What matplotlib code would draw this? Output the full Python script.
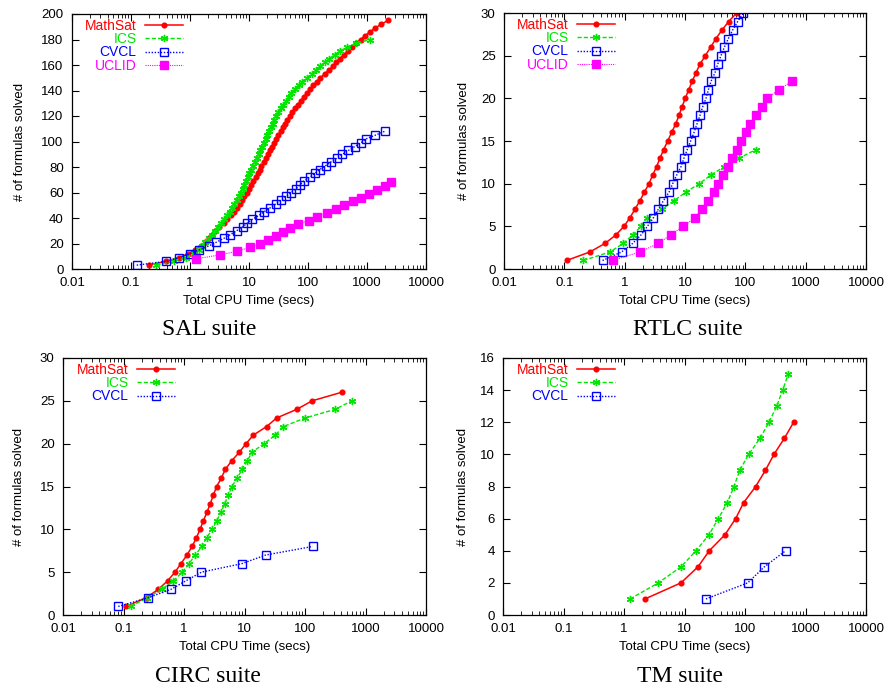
import numpy as np
import matplotlib
matplotlib.use("Agg")
import matplotlib.pyplot as plt
from matplotlib.ticker import LogLocator, FixedLocator, FixedFormatter, NullFormatter

plt.rcParams['font.family'] = ['Liberation Sans', 'DejaVu Sans']

# ---- SAL suite ----
sal_mathsat_x = [0.20, 0.39, 0.66, 0.93, 1.20, 1.55, 1.86, 2.14, 2.40, 2.69, 3.16, 3.72, 4.27, 4.90, 5.50,
                 6.17, 6.92, 7.59, 8.32, 9.12, 10.0, 10.7, 11.7, 12.9, 14.1, 15.1, 16.2, 17.8, 19.5, 20.9,
                 22.4, 24.5, 26.3, 28.8, 31.6, 34.7, 37.2, 40.7, 44.7, 49.0, 53.7, 60.3, 67.6, 75.9, 85.1,
                 95.5, 107, 123, 141, 162, 191, 224, 263, 302, 347, 407, 479, 562, 661, 776,
                 933, 1122, 1380, 1738, 2300]
sal_mathsat_y = [3, 6, 9, 12, 15, 18, 21, 24, 27, 30, 33, 36, 39, 42, 45,
                 48, 51, 54, 57, 60, 63, 66, 69, 72, 75, 78, 81, 84, 87, 90,
                 93, 96, 99, 102, 105, 108, 111, 114, 117, 120, 123, 126, 129, 132, 135,
                 138, 141, 144, 147, 150, 153, 156, 159, 162, 165, 168, 171, 174, 177, 180,
                 183, 186, 189, 192, 195]
sal_ics_x = [0.27, 0.54, 0.87, 1.17, 1.41, 1.62, 1.82, 2.09, 2.34, 2.63,
             2.95, 3.39, 3.80, 4.27, 4.68, 5.13, 5.62, 6.17, 6.76, 7.24,
             7.76, 8.32, 8.91, 9.55, 10.0, 10.7, 11.5, 12.6, 13.5, 14.5,
             15.5, 16.6, 17.8, 19.1, 20.4, 21.9, 23.4, 25.1, 26.9, 28.8,
             31.6, 34.7, 38.0, 42.7, 46.8, 52.5, 60.3, 69.2, 79.4, 95.5,
             115, 135, 158, 191, 229, 282, 347, 457, 661, 1122]
sal_ics_y = [3, 6, 9, 12, 15, 18, 21, 24, 27, 30,
             33, 36, 39, 42, 45, 48, 51, 54, 57, 60,
             63, 66, 69, 72, 75, 78, 81, 84, 87, 90,
             93, 96, 99, 102, 105, 108, 111, 114, 117, 120,
             123, 126, 129, 132, 135, 138, 141, 144, 147, 150,
             153, 156, 159, 162, 165, 168, 171, 174, 177, 180]
sal_cvcl_x = [0.125, 0.39, 0.66, 1.0, 1.44, 2.06, 2.79, 3.73, 4.85, 6.15,
              7.79, 9.36, 11.4, 14.7, 18.1, 22.9, 28.3, 34.9, 43.1, 51.8,
              62.3, 72.9, 85.4, 107, 130, 158, 198, 245, 310, 383,
              485, 620, 790, 960, 1390, 2000]
sal_cvcl_y = [3, 6, 9, 12, 15, 18, 21, 24, 27, 30,
              33, 36, 39, 42, 45, 48, 51, 54, 57, 60,
              63, 66, 69, 72, 75, 78, 81, 84, 87, 90,
              93, 96, 99, 102, 105, 108]
sal_uclid_x = [1.25, 3.2, 6.3, 10.4, 15.4, 21, 28.5, 37, 50, 68, 103, 140, 207, 300, 410,
               580, 800, 1100, 1460, 2000, 2550]
sal_uclid_y = [8, 11, 14, 17, 20, 23, 26, 29, 32, 35, 38, 41, 44, 47, 50,
               53, 56, 59, 62, 65, 68]

# ---- RTLC suite ----
rtlc_mathsat_x = [0.109, 0.266, 0.472, 0.718, 0.975, 1.22, 1.48, 1.79, 2.12, 2.53,
                  2.91, 3.39, 3.85, 4.43, 5.16, 6.01, 7.0, 7.96, 8.92, 10.1,
                  11.5, 13.2, 15.2, 17.7, 21.7, 26.6, 32.6, 41.0, 53.0, 71.8]
rtlc_mathsat_y = [1, 2, 3, 4, 5, 6, 7, 8, 9, 10, 11, 12, 13, 14, 15,
                  16, 17, 18, 19, 20, 21, 22, 23, 24, 25, 26, 27, 28, 29, 30]
rtlc_ics_x = [0.207, 0.571, 0.95, 1.36, 1.87, 2.35, 4.10, 6.57, 10.3, 17.3, 26.6, 44.9, 79.6, 150]
rtlc_ics_y = [1, 2, 3, 4, 5, 6, 7, 8, 9, 10, 11, 12, 13, 14]
rtlc_cvcl_x = [0.43, 0.89, 1.36, 1.87, 2.38, 2.99, 3.61, 4.38, 5.43, 6.25,
               7.28, 8.59, 9.62, 10.9, 12.4, 14.1, 15.8, 17.7, 19.6, 22.3,
               24.4, 27.0, 31.4, 34.8, 39.5, 44.9, 52.3, 61.7, 74.6, 92.7]
rtlc_cvcl_y = [1, 2, 3, 4, 5, 6, 7, 8, 9, 10, 11, 12, 13, 14, 15,
               16, 17, 18, 19, 20, 21, 22, 23, 24, 25, 26, 27, 28, 29, 30]
rtlc_uclid_x = [0.63, 1.79, 3.61, 5.78, 9.38, 14.6, 18.9, 23.8, 30.3, 35.7, 42.1,
                50.9, 60.1, 71.8, 83.7, 101, 119, 150, 187, 226, 361, 586]
rtlc_uclid_y = [1, 2, 3, 4, 5, 6, 7, 8, 9, 10, 11, 12, 13, 14, 15, 16, 17, 18, 19, 20, 21, 22]

# ---- CIRC suite ----
circ_mathsat_x = [0.11, 0.235, 0.377, 0.537, 0.71, 0.89, 1.12, 1.36, 1.60, 1.84, 2.09, 2.40, 2.72,
                  3.05, 3.47, 4.14, 4.82, 6.14, 8.22, 10.6, 14.0, 23.2, 34.0, 72.8, 131, 404]
circ_mathsat_y = [1, 2, 3, 4, 5, 6, 7, 8, 9, 10, 11, 12, 13,
                  14, 15, 16, 17, 18, 19, 20, 21, 22, 23, 24, 25, 26]
circ_ics_x = [0.131, 0.248, 0.428, 0.667, 0.938, 1.21, 1.54, 1.96, 2.37, 2.90, 3.47, 4.09, 4.70,
              5.41, 6.21, 7.62, 9.1, 11.1, 13.3, 21.0, 32.4, 43.9, 101, 313, 598]
circ_ics_y = [1, 2, 3, 4, 5, 6, 7, 8, 9, 10, 11, 12, 13,
              14, 15, 16, 17, 18, 19, 20, 21, 22, 23, 24, 25]
circ_cvcl_x = [0.082, 0.251, 0.61, 1.08, 1.94, 9.1, 22.4, 134]
circ_cvcl_y = [1, 2, 3, 4, 5, 6, 7, 8]

# ---- TM suite ----
tm_mathsat_x = [2.22, 8.75, 16.7, 25.7, 46.7, 70.1, 95.1, 150, 217, 301, 447, 637]
tm_mathsat_y = [1, 2, 3, 4, 5, 6, 7, 8, 9, 10, 11, 12]
tm_ics_x = [1.26, 3.69, 8.75, 15.5, 25.4, 36.2, 51.0, 65.8, 81.6, 115, 177, 249, 334, 419, 520]
tm_ics_y = [1, 2, 3, 4, 5, 6, 7, 8, 9, 10, 11, 12, 13, 14, 15]
tm_cvcl_x = [22.6, 111, 209, 470]
tm_cvcl_y = [1, 2, 3, 4]

x_ticks = [0.01, 0.1, 1, 10, 100, 1000, 10000]
x_tick_labels = ["0.01", "0.1", "1", "10", "100", "1000", "10000"]

RED = '#ff0000'
GREEN = '#00e600'
BLUE = '#0000ff'
MAGENTA = '#ff00ff'


def plot_mathsat(ax, x, y):
    ax.plot(x, y, color=RED, lw=1.1, ls='-', marker='o', ms=3.4, mec=RED, mfc=RED, label='MathSat')


def plot_ics(ax, x, y):
    ax.plot(x, y, color=GREEN, lw=1.0, ls=(0, (3, 1.5)), marker=(6, 2, 0), ms=5.2, mew=1.0,
            mec=GREEN, label='ICS')


def plot_cvcl(ax, x, y):
    ax.plot(x, y, color=BLUE, lw=1.0, ls=(0, (1, 1.2)), marker='s', ms=5.3, mew=1.0,
            mec=BLUE, mfc='none', label='CVCL')


def plot_uclid(ax, x, y):
    ax.plot(x, y, color=MAGENTA, lw=0.8, ls=(0, (1, 1)), marker='s', ms=5.2, mec=MAGENTA,
            mfc=MAGENTA, label='UCLID')


def setup(ax, ymax, ystep, legend_x, caption, cap_xy, ylab_pad):
    ax.set_xscale('log')
    ax.set_xlim(0.01, 10000)
    ax.set_ylim(0, ymax)
    ax.xaxis.set_major_locator(FixedLocator(x_ticks))
    ax.xaxis.set_major_formatter(FixedFormatter(x_tick_labels))
    ax.xaxis.set_minor_locator(LogLocator(base=10, subs=np.arange(2, 10), numticks=20))
    ax.xaxis.set_minor_formatter(NullFormatter())
    ax.set_yticks(np.arange(0, ymax + ystep / 2, ystep))
    ax.tick_params(which='both', direction='in', top=True, right=True, labelsize=9.5, pad=6)
    ax.tick_params(which='major', length=5, width=0.8)
    ax.tick_params(which='minor', length=3, width=0.6)
    for s in ax.spines.values():
        s.set_linewidth(0.9)
    ax.set_xlabel('Total CPU Time (secs)', fontsize=9.5, labelpad=4)
    ax.set_ylabel('# of formulas solved', fontsize=9.5, labelpad=ylab_pad)
    ax.legend(loc='upper right', bbox_to_anchor=(legend_x, 0.98), markerfirst=False, frameon=False,
              handlelength=2.75, handletextpad=0.6, labelspacing=-0.06, borderpad=0, borderaxespad=0,
              fontsize=10, labelcolor='linecolor', numpoints=1)
    fig.text(cap_xy[0] / 888, 1 - cap_xy[1] / 689, caption, family='Liberation Serif',
             fontsize=17, ha='center', va='center')


fig = plt.figure(figsize=(8.88, 6.89), dpi=100)
ax_sal = fig.add_axes([72 / 888, 1 - 269 / 689, 354 / 888, 255 / 689])
ax_rtlc = fig.add_axes([504 / 888, 1 - 269 / 689, 362 / 888, 256 / 689])
ax_circ = fig.add_axes([63 / 888, 1 - 615 / 689, 363 / 888, 257 / 689])
ax_tm = fig.add_axes([503 / 888, 1 - 615 / 689, 363 / 888, 257 / 689])

plot_mathsat(ax_sal, sal_mathsat_x, sal_mathsat_y)
plot_ics(ax_sal, sal_ics_x, sal_ics_y)
plot_cvcl(ax_sal, sal_cvcl_x, sal_cvcl_y)
plot_uclid(ax_sal, sal_uclid_x, sal_uclid_y)
setup(ax_sal, 200, 20, 0.314, 'SAL suite', (209, 330), 11)

plot_mathsat(ax_rtlc, rtlc_mathsat_x, rtlc_mathsat_y)
plot_ics(ax_rtlc, rtlc_ics_x, rtlc_ics_y)
plot_cvcl(ax_rtlc, rtlc_cvcl_x, rtlc_cvcl_y)
plot_uclid(ax_rtlc, rtlc_uclid_x, rtlc_uclid_y)
setup(ax_rtlc, 30, 5, 0.307, 'RTLC suite', (688, 330), 8)

plot_mathsat(ax_circ, circ_mathsat_x, circ_mathsat_y)
plot_ics(ax_circ, circ_ics_x, circ_ics_y)
plot_cvcl(ax_circ, circ_cvcl_x, circ_cvcl_y)
setup(ax_circ, 30, 5, 0.309, 'CIRC suite', (208, 676), 11)

plot_mathsat(ax_tm, tm_mathsat_x, tm_mathsat_y)
plot_ics(ax_tm, tm_ics_x, tm_ics_y)
plot_cvcl(ax_tm, tm_cvcl_x, tm_cvcl_y)
setup(ax_tm, 16, 2, 0.309, 'TM suite', (680, 676), 8)

fig.savefig('out.png', dpi=100)
